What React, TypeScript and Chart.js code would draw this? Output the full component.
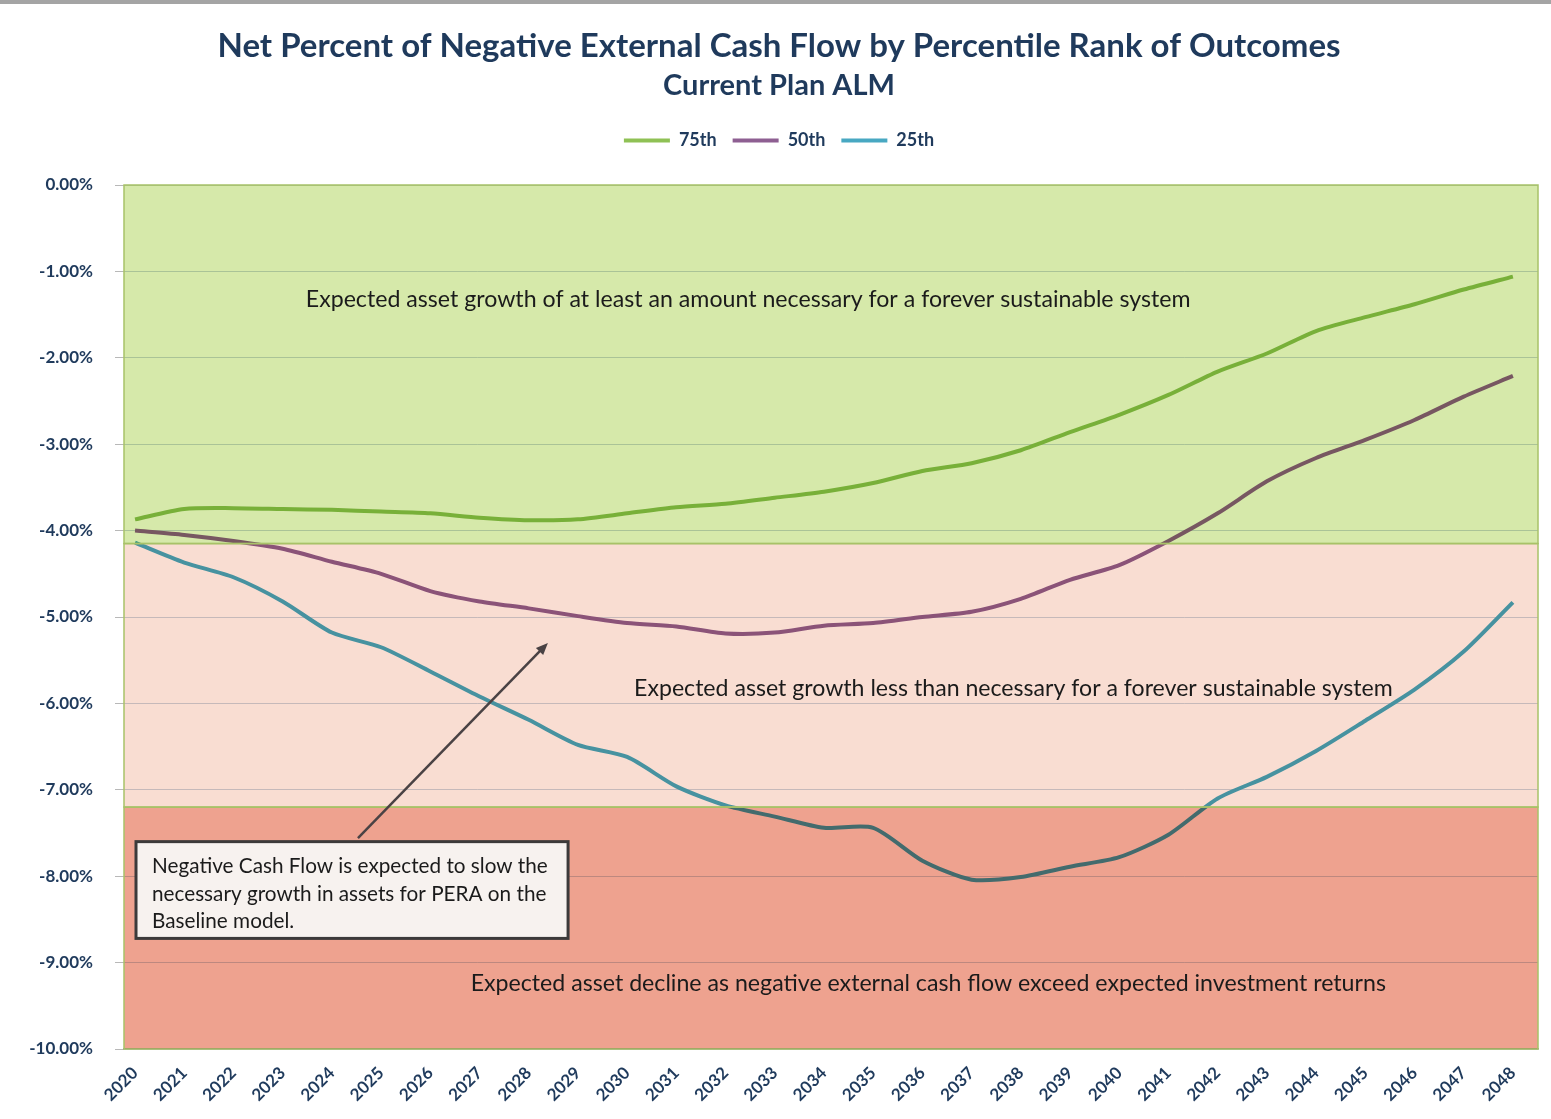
import React, { useEffect, useRef } from "react";
import { Chart, registerables, layouts } from "chart.js";

Chart.register(...registerables);

// ---------- data ----------
const YEARS = [
  2020, 2021, 2022, 2023, 2024, 2025, 2026, 2027, 2028, 2029, 2030, 2031, 2032, 2033, 2034,
  2035, 2036, 2037, 2038, 2039, 2040, 2041, 2042, 2043, 2044, 2045, 2046, 2047, 2048,
];
const P75 = [
  -3.87, -3.75, -3.74, -3.75, -3.76, -3.78, -3.8, -3.85, -3.88, -3.87, -3.8, -3.73, -3.69, -3.62, -3.55,
  -3.45, -3.31, -3.22, -3.07, -2.86, -2.66, -2.43, -2.16, -1.95, -1.69, -1.53, -1.38, -1.21, -1.06,
];
const P50 = [
  -4.0, -4.05, -4.12, -4.21, -4.36, -4.5, -4.7, -4.82, -4.9, -4.99, -5.07, -5.11, -5.19, -5.18, -5.1,
  -5.07, -5.0, -4.94, -4.79, -4.57, -4.4, -4.12, -3.8, -3.43, -3.16, -2.95, -2.72, -2.45, -2.21,
];
const P25 = [
  -4.14, -4.37, -4.54, -4.82, -5.18, -5.35, -5.63, -5.92, -6.19, -6.48, -6.62, -6.96, -7.18, -7.31, -7.44,
  -7.44, -7.82, -8.04, -8.01, -7.89, -7.78, -7.52, -7.1, -6.85, -6.55, -6.2, -5.84, -5.4, -4.83,
];
const SERIES_LABELS = ["75th", "50th", "25th"];
const Y_MIN = -10;
const Y_MAX = 0;
const Y_STEP = 1;
const BAND_EDGES = [0, -4.15, -7.2, -10];

const TITLE = "Net Percent of Negative External Cash Flow by Percentile Rank of Outcomes";
const SUBTITLE = "Current Plan ALM";
const BAND_TEXTS = [
  "Expected asset growth of at least an amount necessary for a forever sustainable system",
  "Expected asset growth less than necessary for a forever sustainable system",
  "Expected asset decline as negative external cash flow exceed expected investment returns",
];
const NOTE_LINES = [
  "Negative Cash Flow is expected to slow the",
  "necessary growth in assets for PERA on the",
  "Baseline model.",
];

// ---------- styles ----------
const NAVY = "#1F3A5C";
const FONT = "Lato, 'Open Sans', sans-serif";
const SERIES_COLORS = ["#8FC155", "#8E5F92", "#48A8C2"];
const BAND_COLORS = ["#D6E9AA", "#F9DDD2", "#EEA28F"];
const BAND_BORDER = "#A8C268";
const PLOT_TOP = 185;
const PLOT_LEFT = 124;
const PAD_LEFT = 20;
const PAD_RIGHT = 13;
const LEGEND_GAP = 25.5;

// annotation placement (data coordinates)
const BAND_TEXT_POS = [
  { x: 2032.46, y: -1.32, w: 885 },
  { x: 2037.85, y: -5.83, w: 759 },
  { x: 2036.12, y: -9.24, w: 916 },
];
const NOTE_BOX = { x0: 2020.02, x1: 2028.8, y0: -7.6, y1: -8.72, firstLineW: 396 };
const ARROW = { x0: 2024.53, y0: -7.56, x1: 2028.39, y1: -5.3 };

function fitSize(ctx: CanvasRenderingContext2D, text: string, width: number, weight: string) {
  ctx.font = `${weight} 20px ${FONT}`;
  const w = ctx.measureText(text).width;
  return (20 * width) / w;
}

// empty layout box that keeps a gap between the legend and the plot area
const spacerPlugin = {
  id: "legendSpacer",
  beforeInit(chart: any) {
    const box: any = {
      position: "top",
      weight: 500,
      fullSize: true,
      options: { stackWeight: 1 },
      left: 0,
      top: 0,
      right: 0,
      bottom: 0,
      width: 0,
      height: 0,
      update(maxWidth: number) {
        this.width = maxWidth;
        this.height = LEGEND_GAP;
        this.right = this.left + this.width;
        this.bottom = this.top + this.height;
      },
      isHorizontal() {
        return true;
      },
      draw() {},
    };
    layouts.addBox(chart, box);
  },
};

const overlayPlugin = {
  id: "overlay",
  afterDatasetsDraw(chart: any) {
    const { ctx, chartArea: ca, scales } = chart;
    const xs = scales.x;
    const ys = scales.y;

    // translucent bands (multiplied over grid and lines)
    ctx.save();
    ctx.globalCompositeOperation = "multiply";
    for (let i = 0; i < BAND_COLORS.length; i++) {
      const t = ys.getPixelForValue(BAND_EDGES[i]);
      const b = ys.getPixelForValue(BAND_EDGES[i + 1]);
      ctx.fillStyle = BAND_COLORS[i];
      ctx.fillRect(ca.left, t, ca.right - ca.left, b - t);
    }
    ctx.restore();

    ctx.save();
    ctx.strokeStyle = BAND_BORDER;
    ctx.lineWidth = 1.5;
    for (let i = 0; i < BAND_COLORS.length; i++) {
      const t = ys.getPixelForValue(BAND_EDGES[i]);
      const b = ys.getPixelForValue(BAND_EDGES[i + 1]);
      ctx.strokeRect(ca.left, t, ca.right - ca.left, b - t);
    }
    ctx.restore();

    // band captions
    ctx.save();
    ctx.fillStyle = "#1b1b1b";
    ctx.textAlign = "center";
    ctx.textBaseline = "middle";
    BAND_TEXTS.forEach((txt, i) => {
      const p = BAND_TEXT_POS[i];
      const size = fitSize(ctx, txt, p.w, "normal");
      ctx.font = `normal ${size}px ${FONT}`;
      ctx.fillText(txt, xs.getPixelForValue(p.x), ys.getPixelForValue(p.y));
    });
    ctx.restore();

    // arrow
    ctx.save();
    const ax0 = xs.getPixelForValue(ARROW.x0);
    const ay0 = ys.getPixelForValue(ARROW.y0);
    const ax1 = xs.getPixelForValue(ARROW.x1);
    const ay1 = ys.getPixelForValue(ARROW.y1);
    const ang = Math.atan2(ay1 - ay0, ax1 - ax0);
    const head = 13;
    ctx.strokeStyle = "#4a4244";
    ctx.fillStyle = "#4a4244";
    ctx.lineWidth = 2.5;
    ctx.beginPath();
    ctx.moveTo(ax0, ay0);
    ctx.lineTo(ax1 - Math.cos(ang) * head * 0.7, ay1 - Math.sin(ang) * head * 0.7);
    ctx.stroke();
    ctx.beginPath();
    ctx.moveTo(ax1, ay1);
    ctx.lineTo(ax1 - head * Math.cos(ang - 0.4), ay1 - head * Math.sin(ang - 0.4));
    ctx.lineTo(ax1 - head * Math.cos(ang + 0.4), ay1 - head * Math.sin(ang + 0.4));
    ctx.closePath();
    ctx.fill();
    ctx.restore();

    // note box
    ctx.save();
    const bx0 = xs.getPixelForValue(NOTE_BOX.x0);
    const bx1 = xs.getPixelForValue(NOTE_BOX.x1);
    const by0 = ys.getPixelForValue(NOTE_BOX.y0);
    const by1 = ys.getPixelForValue(NOTE_BOX.y1);
    ctx.fillStyle = "#F7F2EF";
    ctx.fillRect(bx0, by0, bx1 - bx0, by1 - by0);
    ctx.strokeStyle = "#3c3a3a";
    ctx.lineWidth = 3;
    ctx.strokeRect(bx0, by0, bx1 - bx0, by1 - by0);
    const size = fitSize(ctx, NOTE_LINES[0], NOTE_BOX.firstLineW, "normal");
    ctx.font = `normal ${size}px ${FONT}`;
    ctx.fillStyle = "#1b1b1b";
    ctx.textAlign = "left";
    ctx.textBaseline = "middle";
    const lh = (by1 - by0) / 3.5;
    NOTE_LINES.forEach((ln, i) => {
      ctx.fillText(ln, bx0 + 16, by0 + lh * 0.9 + i * lh);
    });
    ctx.restore();
  },
};

export default function App() {
  const ref = useRef<HTMLCanvasElement | null>(null);

  useEffect(() => {
    if (!ref.current) return;
    const seriesData = [P75, P50, P25];
    const chart = new Chart(ref.current, {
      type: "line",
      data: {
        datasets: seriesData.map((vals, i) => ({
          label: SERIES_LABELS[i],
          data: YEARS.map((yr, j) => ({ x: yr, y: vals[j] })),
          borderColor: SERIES_COLORS[i],
          backgroundColor: SERIES_COLORS[i],
          borderWidth: 4,
          pointRadius: 0,
          pointStyle: "line",
          tension: 0.25,
          fill: false,
        })),
      },
      options: {
        animation: false,
        responsive: true,
        maintainAspectRatio: false,
        layout: { padding: { left: PAD_LEFT, right: PAD_RIGHT, top: 0, bottom: 0 } },
        plugins: {
          title: {
            display: true,
            text: TITLE,
            color: NAVY,
            font: { family: FONT, size: 33, weight: "bold" },
            padding: { top: 26, bottom: 3 },
          },
          subtitle: {
            display: true,
            text: SUBTITLE,
            color: NAVY,
            font: { family: FONT, size: 29, weight: "bold" },
            padding: { top: 0, bottom: 12 },
          },
          legend: {
            display: true,
            position: "top",
            labels: {
              usePointStyle: true,
              pointStyle: "line",
              pointStyleWidth: 46,
              boxHeight: 4,
              color: NAVY,
              font: { family: FONT, size: 18, weight: "bold" },
              padding: 16,
            },
          },
          tooltip: { enabled: false },
        },
        scales: {
          x: {
            type: "linear",
            min: 2019.776,
            max: 2048.51,
            afterBuildTicks: (s: any) => {
              s.ticks = YEARS.map((v) => ({ value: v }));
            },
            ticks: {
              autoSkip: false,
              minRotation: 45,
              maxRotation: 45,
              color: NAVY,
              font: { family: FONT, size: 17, weight: "bold" },
              padding: 6,
              callback: (v: any) => String(v),
            },
            grid: { display: false },
            border: { display: true, color: "#9a9a9a", width: 1.5 },
            afterFit: (s: any) => {
              s.height = 70;
            },
          },
          y: {
            min: Y_MIN,
            max: Y_MAX,
            ticks: {
              stepSize: Y_STEP,
              color: NAVY,
              font: { family: FONT, size: 17, weight: "bold" },
              padding: 22,
              callback: (v: any) => Number(v).toFixed(2) + "%",
            },
            grid: {
              color: "rgba(140,165,190,0.45)",
              tickLength: 9,
              tickColor: "#b8b8b8",
            },
            border: { display: false },
            afterFit: (s: any) => {
              s.width = PLOT_LEFT - PAD_LEFT;
              s.paddingTop = PLOT_TOP;
            },
          },
        },
      },
      plugins: [spacerPlugin, overlayPlugin],
    });
    return () => chart.destroy();
  }, []);

  return (
    <div
      style={{
        position: "absolute",
        left: 0,
        top: 0,
        width: 1551,
        height: 1119,
        background: "#ffffff",
      }}
    >
      <div
        style={{
          position: "absolute",
          left: 0,
          top: 0,
          width: 1551,
          height: 4,
          background: "#a4a4a4",
        }}
      />
      <canvas ref={ref} />
    </div>
  );
}
